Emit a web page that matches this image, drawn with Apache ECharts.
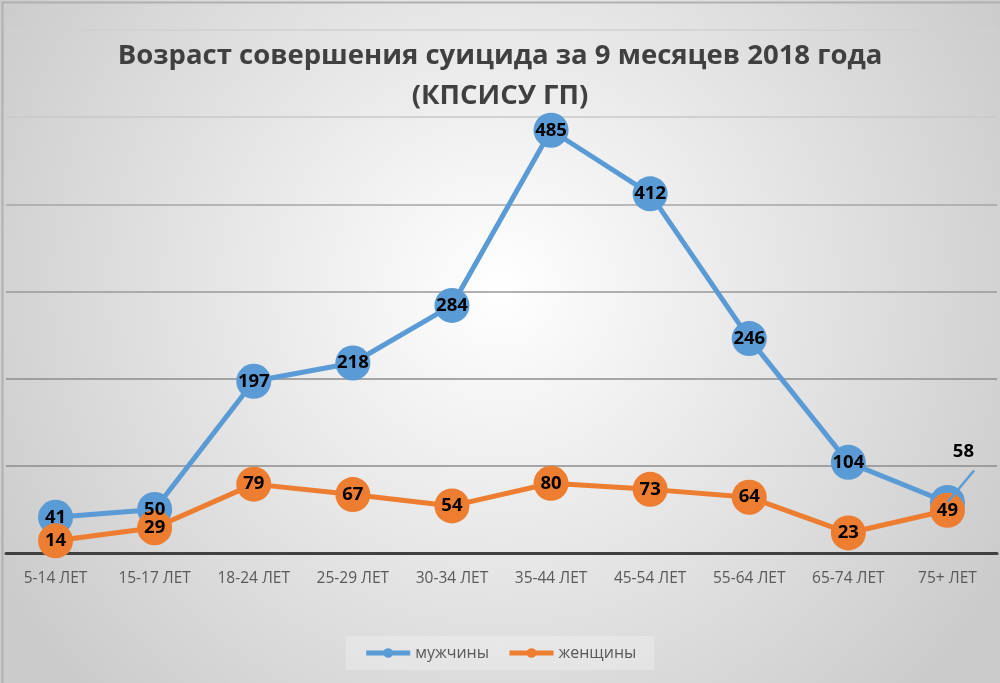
<!DOCTYPE html>
<html>
<head>
<meta charset="utf-8">
<script src="https://cdn.jsdelivr.net/npm/echarts@6/dist/echarts.min.js"></script>
<style>html,body{margin:0;padding:0;}#c{width:1000px;height:683px;}</style>
</head>
<body>
<div id="c"></div>
<script>
const titleText = 'Возраст совершения суицида за 9 месяцев 2018 года\n(КПСИСУ ГП)';
const categories = ['5-14 ЛЕТ','15-17 ЛЕТ','18-24 ЛЕТ','25-29 ЛЕТ','30-34 ЛЕТ','35-44 ЛЕТ','45-54 ЛЕТ','55-64 ЛЕТ','65-74 ЛЕТ','75+ ЛЕТ'];
const menName = 'мужчины';
const womenName = 'женщины';
const men = [41, 50, 197, 218, 284, 485, 412, 246, 104, 58];
const women = [14, 29, 79, 67, 54, 80, 73, 64, 23, 49];

const font = '"Open Sans", "Noto Sans", sans-serif';
const chart = echarts.init(document.getElementById('c'));

const menLabelData = men.map((v, i) => {
  if (i === men.length - 1) {
    return { value: v, label: { offset: [16, -51] }, labelLine: { show: true } };
  }
  return v;
});

const labelStyle = { show: true, position: 'inside', fontFamily: font, fontWeight: 'bold', fontSize: 18.5, color: '#000000', textBorderWidth: 0, opacity: 1 };

chart.setOption({
  backgroundColor: {
    type: 'radial', x: 0.5, y: 0.42, r: 0.85,
    colorStops: [{ offset: 0, color: '#ffffff' }, { offset: 1, color: '#cbcbcb' }]
  },
  animation: false,
  title: {
    text: titleText, left: 'center', top: 31,
    textStyle: { fontFamily: font, fontWeight: 'bold', fontSize: 27.5, color: '#404040', lineHeight: 40 }
  },
  legend: {
    bottom: 13, left: 'center',
    backgroundColor: 'rgba(255,255,255,0.25)',
    padding: [9, 18],
    itemWidth: 44, itemHeight: 12, itemGap: 18,
    lineStyle: { width: 5 },
    textStyle: { fontFamily: font, fontSize: 16, color: '#595959' },
    data: [menName, womenName]
  },
  grid: { left: 6, right: 3, top: 30, bottom: 130, containLabel: false },
  xAxis: {
    type: 'category', data: categories, boundaryGap: true,
    axisLine: { lineStyle: { color: '#404040', width: 3 } },
    axisTick: { show: false },
    axisLabel: { fontFamily: font, fontSize: 15.5, color: '#595959', margin: 18 }
  },
  yAxis: {
    type: 'value', min: 0, max: 600, interval: 100,
    axisLabel: { show: false }, axisLine: { show: false }, axisTick: { show: false },
    splitLine: { lineStyle: { color: ['#404040', '#8c8c8c', '#8c8c8c', '#999999', '#a6a6a6', '#c8c8c8', '#d0d0d0'], width: 1.5 } }
  },
  series: [
    {
      name: menName, type: 'line', data: men, z: 2,
      symbol: 'circle', symbolSize: 35,
      lineStyle: { color: '#5B9BD5', width: 5 },
      itemStyle: { color: '#5B9BD5' },
      label: { show: false }
    },
    {
      name: womenName, type: 'line', data: women, z: 3,
      symbol: 'circle', symbolSize: 35,
      lineStyle: { color: '#ED7D31', width: 5 },
      itemStyle: { color: '#ED7D31' },
      label: labelStyle
    },
    {
      name: menName + ' labels', type: 'scatter', data: menLabelData, z: 4,
      symbolSize: 1, itemStyle: { color: '#5B9BD5', opacity: 0 },
      label: labelStyle,
      labelLine: { lineStyle: { color: '#5B9BD5', width: 2.5, opacity: 1 } },
      silent: true
    }
  ],
  graphic: [{
    type: 'rect', left: 0, top: 0, silent: true,
    shape: { width: 999, height: 682 },
    style: { fill: 'none', stroke: '#b0b0b0', lineWidth: 2 }
  }]
});
</script>
</body>
</html>
